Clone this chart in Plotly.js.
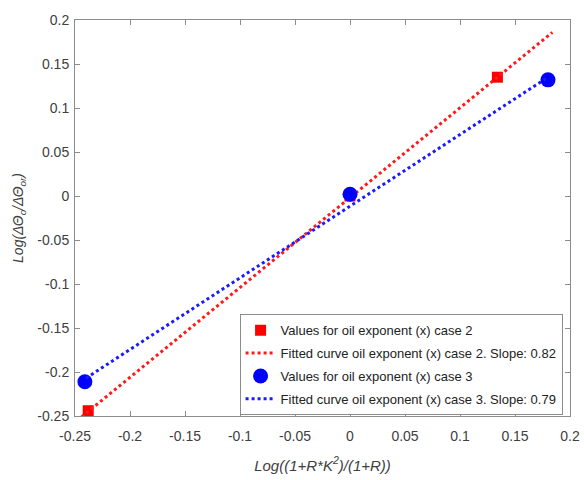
<!DOCTYPE html>
<html><head><meta charset="utf-8">
<script src="https://cdn.plot.ly/plotly-3.0.1.min.js"></script>
<style>body{margin:0;background:#fff}#c{width:584px;height:480px}</style>
</head><body><div id="c"></div>
<script>
const case2X = [-0.238, 0, 0.134];
const case2Y = [-0.244, 0, 0.135];
const case3X = [-0.241, 0, 0.18];
const case3Y = [-0.211, 0.002, 0.132];
const fit2X = [-0.244, 0.184];
const fit2Y = [-0.251, 0.186];
const fit3X = [-0.24, 0.18];
const fit3Y = [-0.207, 0.135];
const tickVals = [-0.25, -0.2, -0.15, -0.1, -0.05, 0, 0.05, 0.1, 0.15, 0.2];
const tickText = ['-0.25', '-0.2', '-0.15', '-0.1', '-0.05', '0', '0.05', '0.1', '0.15', '0.2'];
const names = [
  'Values for oil exponent (x) case 2',
  'Fitted curve oil exponent (x) case 2. Slope: 0.82',
  'Values for oil exponent (x) case 3',
  'Fitted curve oil exponent (x) case 3. Slope: 0.79'
];

const traces = [
  {x: case2X, y: case2Y, mode: 'markers', type: 'scatter', name: names[0], legendgroup: 'a',
   marker: {symbol: 'square', size: 11, color: '#ff0000'}},
  {x: fit2X, y: fit2Y, mode: 'lines', type: 'scatter', name: names[1], legendgroup: 'b',
   line: {color: '#ff1a1a', width: 3, dash: 'dot'}},
  {x: case3X, y: case3Y, mode: 'markers', type: 'scatter', name: names[2], legendgroup: 'c',
   marker: {symbol: 'circle', size: 15, color: '#0000ff'}},
  {x: fit3X, y: fit3Y, mode: 'lines', type: 'scatter', name: names[3], legendgroup: 'd',
   line: {color: '#1a1aff', width: 3, dash: 'dot'}}
];

const axisCommon = {
  range: [-0.25, 0.2], tickvals: tickVals, ticktext: tickText,
  showgrid: false, zeroline: false, showline: true, mirror: 'ticks',
  linecolor: '#8c8c8c', linewidth: 1, ticks: 'inside', ticklen: 5,
  tickcolor: '#8c8c8c', tickfont: {family: 'Liberation Sans, Arial', size: 14, color: '#404040'}
};

const layout = {
  width: 584, height: 480,
  margin: {l: 75, r: 14, t: 20, b: 64},
  paper_bgcolor: '#fff', plot_bgcolor: '#fff',
  showlegend: true,
  font: {family: 'Liberation Sans, Arial', color: '#404040'},
  xaxis: Object.assign({}, axisCommon, {
    ticklabelstandoff: 7,
    title: {text: '<i>Log((1+R*K<sup>2</sup>)/(1+R))</i>', font: {size: 15, color: '#404040'}, standoff: 17}
  }),
  yaxis: Object.assign({}, axisCommon, {
    ticklabelstandoff: 2,
    title: {text: '<i>Log(ΔΘ<sub>o</sub>/ΔΘ<sub>or</sub>)</i>', font: {size: 14, color: '#404040'}, standoff: 10}
  }),
  legend: {
    x: 0.985, y: 0.002, xanchor: 'right', yanchor: 'bottom',
    bgcolor: '#fff', bordercolor: '#8c8c8c', borderwidth: 1,
    font: {family: 'Liberation Sans, Arial', size: 13, color: '#222'},
    tracegroupgap: 3, itemwidth: 30
  }
};

Plotly.newPlot('c', traces, layout, {displayModeBar: false, staticPlot: true});
</script>
</body></html>
